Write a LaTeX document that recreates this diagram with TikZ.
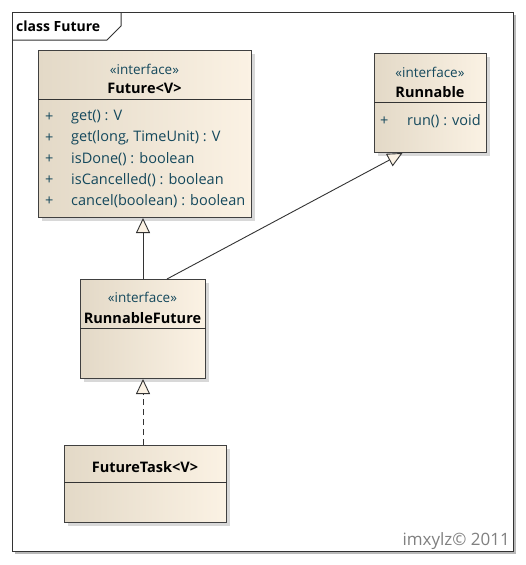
\documentclass[tikz,border=0pt]{standalone}
\usepackage{fontspec}
\setmainfont{Open Sans}
\usetikzlibrary{positioning,arrows.meta,shadows}

\definecolor{boxL}{RGB}{227,217,199}
\definecolor{boxR}{RGB}{251,242,228}
\definecolor{memb}{RGB}{20,72,92}

\tikzset{
  umlbox/.style={draw=black!75,line width=1pt,left color=boxL,right color=boxR,anchor=north west,inner sep=0pt,
    drop shadow={shadow xshift=3pt,shadow yshift=-3pt,fill=black!30}},
  stereo/.style={text=memb,font=\fontsize{13.5}{15}\selectfont},
  cname/.style={font=\fontsize{14.5}{16}\selectfont\bfseries},
  member/.style={anchor=west,inner sep=0pt,text=memb,font=\fontsize{14.5}{16}\selectfont},
  inherit/.style={draw=black!80,line width=0.9pt,-{Triangle[length=15pt,width=14pt,fill=boxR]}},
}

\begin{document}
\begin{tikzpicture}[x=1pt,y=-1pt]
  \useasboundingbox (0,0) rectangle (526,565);
  % diagram frame
  \draw[black!80,line width=1pt,fill=white,drop shadow={shadow xshift=3pt,shadow yshift=-3pt,fill=black!55}](12,12)rectangle(513,551);
  \draw[black!80,line width=1pt](12,40)--(107,40)--(121,26)--(121,12);
  \node[anchor=west,inner sep=0pt,font=\fontsize{14}{16}\selectfont\bfseries](title)at(16,26){class Future};

  % Future<V>
  \node[umlbox,minimum width=213pt,minimum height=167pt](future)at(38,50){};
  \draw[black!80,line width=1pt](future.west|-0,99)--(future.east|-0,99);
  \node[stereo](futureS)at(144.5,69){«interface»};
  \node[cname](futureN)at(144.5,88){Future<V>};
  \foreach \m [count=\i] in {get() : V,{get(long, TimeUnit) : V},isDone() : boolean,isCancelled() : boolean,cancel(boolean) : boolean}{
    \node[member](fplus\i)at(45,96+21*\i){+};
    \node[member](fop\i)at(71,96+21*\i){\m};
  }

  % Runnable
  \node[umlbox,minimum width=112pt,minimum height=99pt](runnable)at(374,53){};
  \draw[black!80,line width=1pt](runnable.west|-0,102)--(runnable.east|-0,102);
  \node[stereo](runS)at(430,72){«interface»};
  \node[cname](runN)at(430,92){Runnable};
  \node[member](rplus)at(380,121){+};
  \node[member](rop)at(407,121){run() : void};

  % RunnableFuture
  \node[umlbox,minimum width=125pt,minimum height=99pt](rfuture)at(80,279){};
  \draw[black!80,line width=1pt](rfuture.west|-0,328)--(rfuture.east|-0,328);
  \node[stereo](rfS)at(142.5,297){«interface»};
  \node[cname](rfN)at(142.5,318){RunnableFuture};

  % FutureTask<V>
  \node[umlbox,minimum width=162pt,minimum height=77pt](task)at(64,445){};
  \draw[black!80,line width=1pt](task.west|-0,482)--(task.east|-0,482);
  \node[cname](taskN)at(145,467){FutureTask<V>};

  % relations
  \draw[inherit](rfuture.north)--(rfuture.north|-future.south);
  \draw[inherit]([xshift=24pt]rfuture.north)--([xshift=-28pt]runnable.south);
  \draw[inherit,dash pattern=on 6pt off 4pt](task.north-|rfuture.south)--(rfuture.south);

  \node[anchor=east,inner sep=0pt,text=black!50,font=\fontsize{17}{19}\selectfont](stamp)at(510,541){imxylz© 2011};
\end{tikzpicture}
\end{document}
